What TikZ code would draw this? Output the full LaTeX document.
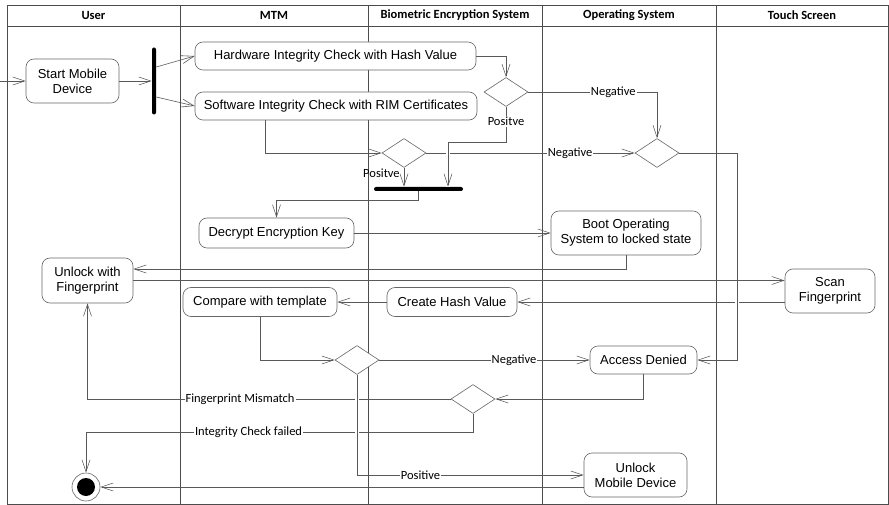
\documentclass[tikz,border=0pt]{standalone}
\usepackage{fontspec}
\setmainfont{Liberation Sans}
\newfontfamily\calib{Carlito}
\usetikzlibrary{shapes.geometric,arrows.meta}

\begin{document}
\begin{tikzpicture}[x=1pt,y=-1pt,line width=0.6pt,
	act/.style={draw=black!60,fill=white,rounded corners=8pt,align=center,inner sep=0pt,font=\fontsize{13}{15}\selectfont},
	dec/.style={diamond,draw=black!60,fill=white,inner sep=0pt,minimum width=44pt,minimum height=29pt},
	bar/.style={fill=black,rounded corners=2pt,inner sep=0pt},
	flow/.style={draw=black!65,-{Straight Barb[length=12pt,width=8pt]}},
	cut/.style={draw=white,line width=4pt},
	lbl/.style={fill=white,inner sep=1pt,font=\calib\fontsize{12.5}{14}\selectfont},
	lbltwo/.style={inner sep=1pt,font=\calib\fontsize{12.5}{14}\selectfont},
	lanetitle/.style={font=\calib\bfseries\fontsize{12.5}{14}\selectfont}]
	\useasboundingbox (0,0) rectangle (889,505);
	% swimlanes
	\draw[black!70,line width=0.8pt] (7,5) rectangle (888,504);
	\draw[black!70,line width=0.8pt] (7,26) -- (888,26);
	\foreach \x in {180,368,542,716}
		\draw[black!70,line width=0.8pt] (\x,5) -- (\x,504);
	\node[lanetitle] (tuser) at (93.5,15.5) {User};
	\node[lanetitle] (tmtm) at (274,15.5) {MTM};
	\node[lanetitle] (tbes) at (455,15.5) {Biometric Encryption System};
	\node[lanetitle] (tos) at (629,15.5) {Operating System};
	\node[lanetitle] (tts) at (802,15.5) {Touch Screen};
	% actions
	\coordinate (in) at (0,81);
	\node[act,minimum width=93pt,minimum height=44pt] (start) at (72.5,81) {Start Mobile\\Device};
	\node[bar,minimum width=4pt,minimum height=67pt] (fork) at (154,81) {};
	\node[act,minimum width=281pt,minimum height=28pt] (hw) at (335.5,56) {Hardware Integrity Check with Hash Value};
	\node[act,minimum width=282pt,minimum height=28pt] (sw) at (336,106) {Software Integrity Check with RIM Certificates};
	\node[dec] (d1) at (506,92) {};
	\node[dec] (d2) at (404,153) {};
	\node[dec] (d3) at (657,153) {};
	\node[bar,minimum width=89pt,minimum height=4pt] (join) at (418.5,189) {};
	\node[act,minimum width=155pt,minimum height=30pt] (decrypt) at (276.5,233) {Decrypt Encryption Key};
	\node[act,minimum width=150pt,minimum height=44pt] (boot) at (626,233) {Boot Operating\\System to locked state};
	\node[act,minimum width=91pt,minimum height=45pt] (unlock) at (87.5,280.5) {Unlock with\\Fingerprint};
	\node[act,minimum width=90pt,minimum height=44pt] (scan) at (830,291) {Scan\\Fingerprint};
	\node[act,minimum width=130pt,minimum height=29pt] (hash) at (452,302) {Create Hash Value};
	\node[act,minimum width=154pt,minimum height=29pt] (cmp) at (260,302) {Compare with template};
	\node[dec] (d4) at (357,360) {};
	\node[act,minimum width=107pt,minimum height=28pt] (denied) at (643.5,360) {Access Denied};
	\node[dec] (d5) at (473,399) {};
	\node[act,minimum width=103pt,minimum height=44pt] (umd) at (635.5,475) {Unlock\\Mobile Device};
	\node[circle,draw=black!60,fill=white,minimum size=28pt,inner sep=0pt] (final) at (86,487) {};
	\fill (final) circle (9);
	% flows
	\draw[flow] (in) -- (start);
	\draw[flow] (start) -- (fork);
	\draw[flow] ([yshift=14pt]fork.east) -- (hw.west);
	\draw[flow] ([yshift=-16pt]fork.east) -- (sw.west);
	\draw[flow] (hw) -| (d1);
	\draw[flow] (d1) -| node[lbl,pos=0.33]{Negative} (d3);
	\draw[flow] ([xshift=-71pt]sw.south) |- (d2);
	\draw[flow] (d2) -- node[lbl,pos=0.69]{Negative} (d3);
	\draw[cut] ([xshift=29.5pt]join.north) -- ++(0,-45);
	\draw[flow] (d1) -- node[lbl,pos=0.42]{Positve} ++(0,50) -| ([xshift=29.5pt]join.north);
	\draw[flow] (d2) -- node[lbltwo,left=3pt,pos=0.3]{Positve} (d2 |- join.north);
	\draw[flow] (join) -- ++(0,11) -| (decrypt);
	\draw[flow] (decrypt) -- (boot);
	\draw[flow] (boot) |- ([yshift=11.5pt]unlock.east);
	\draw[flow] (scan.west |- hash) -- (hash);
	\draw[flow] (hash) -- (cmp);
	\draw[cut] ([xshift=58pt]d3.east) -- ([xshift=58pt]d3.east |- denied);
	\draw[flow] (d3) -- ++(80,0) |- (denied);
	\draw[flow] (unlock.east) -- (unlock.east -| scan.west);
	\draw[flow] (cmp) |- (d4);
	\draw[flow] (d4) -- node[lbl,pos=0.64]{Negative} (denied);
	\draw[flow] (denied) |- (d5);
	\draw[flow] (d5) -| node[lbl,pos=0.29]{Fingerprint Mismatch} (unlock);
	\draw[flow] (d5) -- ++(0,33) -| node[lbl,pos=0.29]{Integrity Check failed} (final);
	\draw[cut] (d4.south) -- (d4 |- umd);
	\draw[flow] (d4) |- node[lbl,pos=0.64]{Positive} (umd);
	\draw[flow] (umd.west |- final) -- (final);
\end{tikzpicture}
\end{document}
